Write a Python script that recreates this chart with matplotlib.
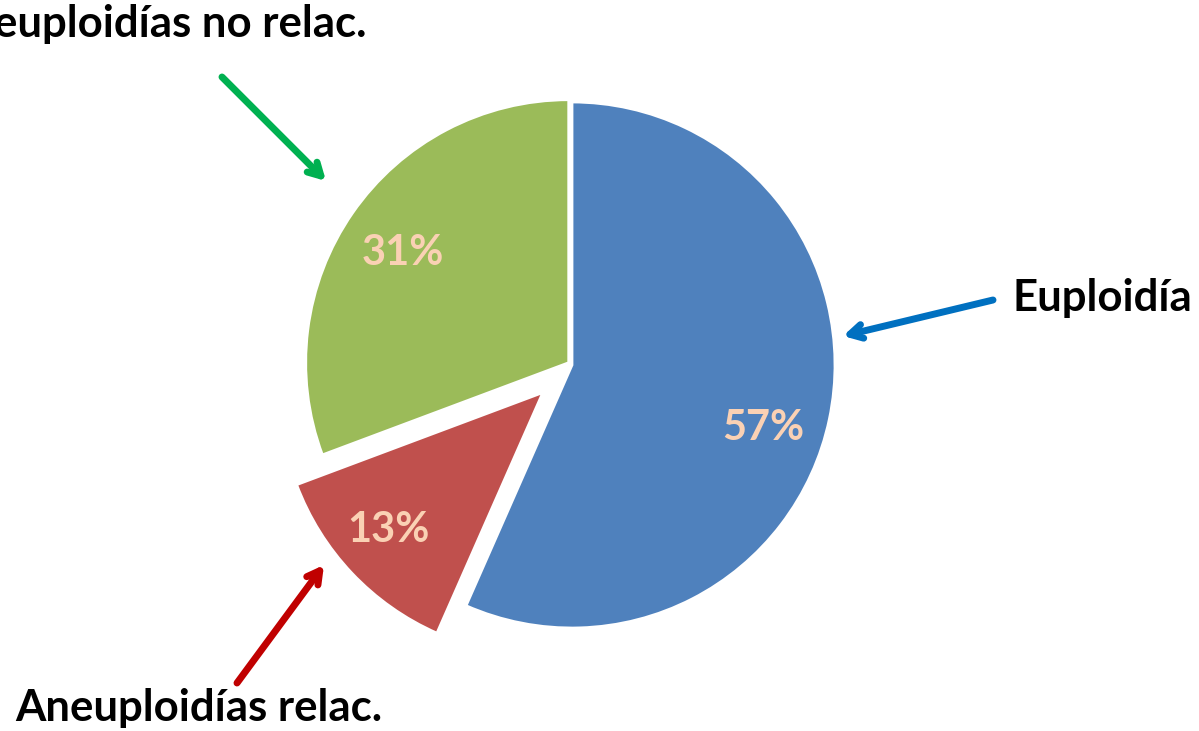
import matplotlib
matplotlib.use("Agg")
import matplotlib.pyplot as plt

categories = ["Euploidía", "Aneuploidías relac.", "Aneuploidías no relac."]
values = [56.6, 12.7, 30.7]
colors = ["#4F81BD", "#C0504D", "#9BBB59"]

W, H = 1199, 731
fig = plt.figure(figsize=(W / 100, H / 100), dpi=100)
ax = fig.add_axes([0, 0, 1, 1])

def py(y):
    return H - y

cx, cy, r = 572, 365, 263
wedges, texts, autotexts = ax.pie(
    values, colors=colors, startangle=90, counterclock=False,
    center=(cx, py(cy)), radius=r, explode=[0, 40, 4],
    autopct="%.0f%%", pctdistance=0.76,
    wedgeprops=dict(edgecolor="white", linewidth=2),
    textprops=dict(color="#FAD1B4", fontsize=30, fontweight="bold", family="Lato"),
    frame=True,
)
ax.set_xlim(0, W)
ax.set_ylim(0, H)
ax.axis("off")

label_pos = [(763, 428), (388, 530), (403, 253)]
for t, (x, y) in zip(autotexts, label_pos):
    t.set_position((x, py(y)))
    t.set_ha("center")
    t.set_va("center")

font = dict(fontsize=31.5, fontweight="bold", family="Lato", color="black")
ax.text(1013, py(298), categories[0], ha="left", va="center", **font)
ax.text(15, py(708), categories[1], ha="left", va="center", **font)
ax.text(367, py(24), categories[2], ha="right", va="center", **font)

arrows = [
    ((993, 300), (843, 336), "#0070C0"),
    ((237, 683), (324, 565), "#C00000"),
    ((222, 77), (326, 181), "#00B050"),
]
for (x0, y0), (x1, y1), c in arrows:
    ax.annotate("", xy=(x1, py(y1)), xytext=(x0, py(y0)),
                arrowprops=dict(arrowstyle="->,head_length=0.9,head_width=0.5",
                                color=c, lw=5, shrinkA=0, shrinkB=0))

fig.savefig("out.png", dpi=100)
